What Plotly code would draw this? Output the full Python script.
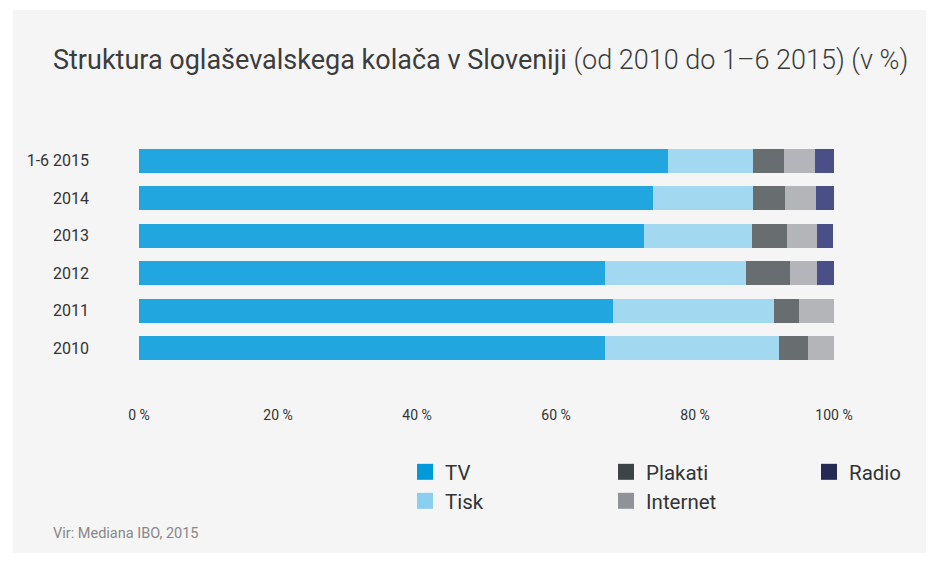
import plotly.graph_objects as go

categories = ["2010", "2011", "2012", "2013", "2014", "1-6 2015"]
tv = [67.1, 68.2, 67.1, 72.7, 74.0, 76.1]
tisk = [25.0, 23.2, 20.3, 15.5, 14.4, 12.2]
plakati = [4.2, 3.6, 6.2, 5.0, 4.5, 4.5]
internet = [3.7, 5.0, 3.9, 4.3, 4.5, 4.5]
radio = [0.0, 0.0, 2.6, 2.4, 2.7, 2.7]
x_ticks = [0, 20, 40, 60, 80, 100]
x_tick_labels = ["0 %", "20 %", "40 %", "60 %", "80 %", "100 %"]

series = [
    ("TV", tv, "#22a6e0", "#009ad9"),
    ("Tisk", tisk, "#a3d8f1", "#8acfef"),
    ("Plakati", plakati, "#686d70", "#3e4446"),
    ("Internet", internet, "#b4b5b9", "#909298"),
    ("Radio", radio, "#4a4f87", "#252a55"),
]

FONT = "Roboto, 'Open Sans', sans-serif"
W, H = 937, 563
OFF = 8  # page body offset

fig = go.Figure()
for name, vals, col, _ in series:
    fig.add_trace(go.Bar(
        name=name, y=categories, x=vals, orientation="h",
        marker=dict(color=col, line=dict(width=0)),
        showlegend=False, hoverinfo="x+y",
    ))

legend_pos = {
    "TV": (405, 472), "Tisk": (405, 501),
    "Plakati": (606, 472), "Internet": (606, 501),
    "Radio": (809, 472),
}
legend_layouts = {}
for i, (name, vals, col, lcol) in enumerate(series):
    lname = "legend" if i == 0 else f"legend{i+1}"
    fig.add_trace(go.Scatter(
        x=[None], y=[None], mode="markers", name=name,
        marker=dict(symbol="square", size=16, color=lcol, line=dict(width=0)),
        legend=lname, showlegend=True, hoverinfo="skip",
    ))
    px, py = legend_pos[name]
    legend_layouts[lname] = dict(
        x=(px - OFF) / W, y=1 - (py - OFF) / H, xref="container", yref="container",
        xanchor="left", yanchor="middle", bgcolor="rgba(0,0,0,0)",
        font=dict(family=FONT, size=20.5, color="#333333"),
    )

L, R, T, B = 139, 834, 142, 367
PW, PH = R - L, B - T

fig.update_layout(
    barmode="stack",
    bargap=0.36,
    width=W, height=H,
    paper_bgcolor="white",
    plot_bgcolor="#f5f5f5",
    margin=dict(l=L - OFF, r=W - R + OFF, t=T - OFF, b=H - B + OFF, autoexpand=False),
    font=dict(family=FONT, color="#333333"),
    xaxis=dict(
        range=[0, 100], tickvals=x_ticks, ticktext=x_tick_labels,
        showgrid=False, zeroline=False, showline=False, ticks="",
        tickfont=dict(size=14, color="#333333"), ticklabelstandoff=38,
        tickangle=0, automargin=False, fixedrange=True,
    ),
    yaxis=dict(
        categoryorder="array", categoryarray=categories,
        range=[-0.5, 5.5],
        showgrid=False, zeroline=False, showline=False, ticks="",
        tickfont=dict(size=16, color="#333333"), ticklabelstandoff=49,
        automargin=False, fixedrange=True,
    ),
    shapes=[dict(
        type="rect", xref="paper", yref="paper", layer="below",
        x0=(13 - L) / PW, x1=(926 - L) / PW,
        y0=-(553 - B) / PH, y1=1 + (T - 10) / PH,
        fillcolor="#f5f5f5", line=dict(width=0),
    )],
    annotations=[
        dict(
            text="Struktura oglaševalskega kolača v Sloveniji "
                 "<span style='font-weight:300'>(od 2010 do 1–6 2015) (v %)</span>",
            xref="paper", yref="paper", x=(51 - L) / PW, y=1 + (T - 60) / PH,
            xanchor="left", yanchor="middle", showarrow=False,
            font=dict(family=FONT, size=27, color="#3c3c3c"),
        ),
        dict(
            text="Vir: Mediana IBO, 2015",
            xref="paper", yref="paper", x=(51 - L) / PW, y=-(533 - B) / PH,
            xanchor="left", yanchor="middle", showarrow=False,
            font=dict(family=FONT, size=14.5, color="#888888"),
        ),
    ],
    **legend_layouts,
)

fig.write_html("out.html")
